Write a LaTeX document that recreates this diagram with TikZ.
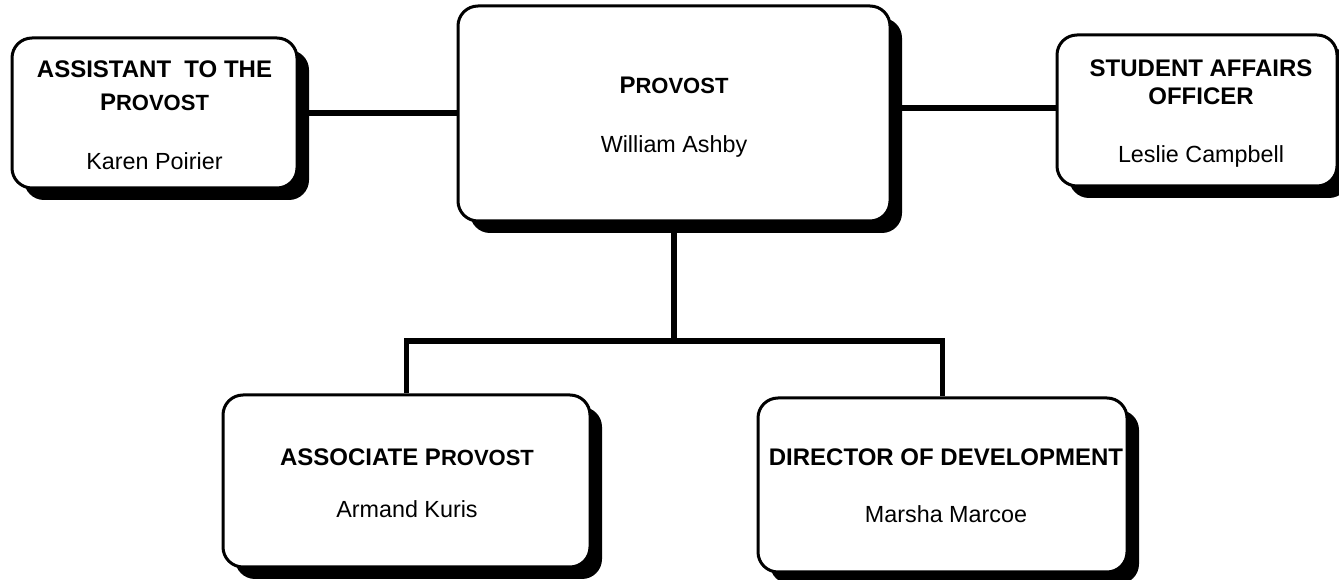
\documentclass[tikz,border=0pt]{standalone}
\usepackage{fontspec}
\setmainfont{Liberation Sans}
\usetikzlibrary{shadows,calc}
\begin{document}
\begin{tikzpicture}[x=0.75pt,y=-0.75pt,
  box/.style={draw=black, line width=2.25pt, rounded corners=15pt, fill=white, inner sep=0pt,
    drop shadow={shadow xshift=9pt, shadow yshift=-9pt, fill=black, opacity=1}},
  link/.style={draw=black, line width=3.9pt, line join=miter},
  ttl/.style={anchor=base, inner sep=0pt, font=\fontsize{18pt}{20pt}\selectfont\bfseries},
  nm/.style={anchor=base, inner sep=0pt, font=\fontsize{17.5pt}{20pt}\selectfont}]
\newcommand{\smc}[1]{{\fontsize{16.5pt}{18pt}\selectfont #1}}
\useasboundingbox (0,0) rectangle (1339,580);
\clip (0,0) rectangle (1339,580);
\fill[white] (0,0) rectangle (1339,580);

% boxes
\node[box, minimum width=213.75pt, minimum height=112.5pt] (A) at (154.5,113) {};
\node[box, minimum width=324pt, minimum height=161.25pt] (P) at (674,113.5) {};
\node[box, minimum width=210pt, minimum height=113.25pt] (S) at (1197,110.5) {};
\node[box, minimum width=275.25pt, minimum height=129pt] (AP) at (406.5,481) {};
\node[box, minimum width=276.75pt, minimum height=130.5pt] (D) at (942.5,485) {};

% connectors
\coordinate (bar) at (676,341);
\coordinate (sl) at ($(S.west)+(0,-2.5)$);
\draw[link] (A.east) -- (A.east -| P.west);
\draw[link] (sl) -- (sl -| P.east);
\draw[link] (P.south) -- (P.south |- bar);
\draw[link] (AP.north) -- (AP.north |- bar) -- (D.north |- bar) -- (D.north);

% texts
\node[ttl] (At1) at (154.5,77.7) {ASSISTANT\ \ TO THE};
\node[ttl] (At2) at (154.5,111) {P\smc{ROVOST}};
\node[nm]  (An)  at (154.5,170) {Karen Poirier};

\node[ttl] (Pt) at (674,94) {P\smc{ROVOST}};
\node[nm]  (Pn) at (674,153) {William Ashby};

\node[ttl] (St1) at (1201,77) {STUDENT AFFAIRS};
\node[ttl] (St2) at (1201,105) {OFFICER};
\node[nm]  (Sn)  at (1201,163) {Leslie Campbell};

\node[ttl] (APt) at (407,466) {ASSOCIATE P\smc{ROVOST}};
\node[nm]  (APn) at (407,518) {Armand Kuris};

\node[ttl] (Dt) at (946,466) {DIRECTOR OF DEVELOPMENT};
\node[nm]  (Dn) at (946,523) {Marsha Marcoe};
\end{tikzpicture}
\end{document}
